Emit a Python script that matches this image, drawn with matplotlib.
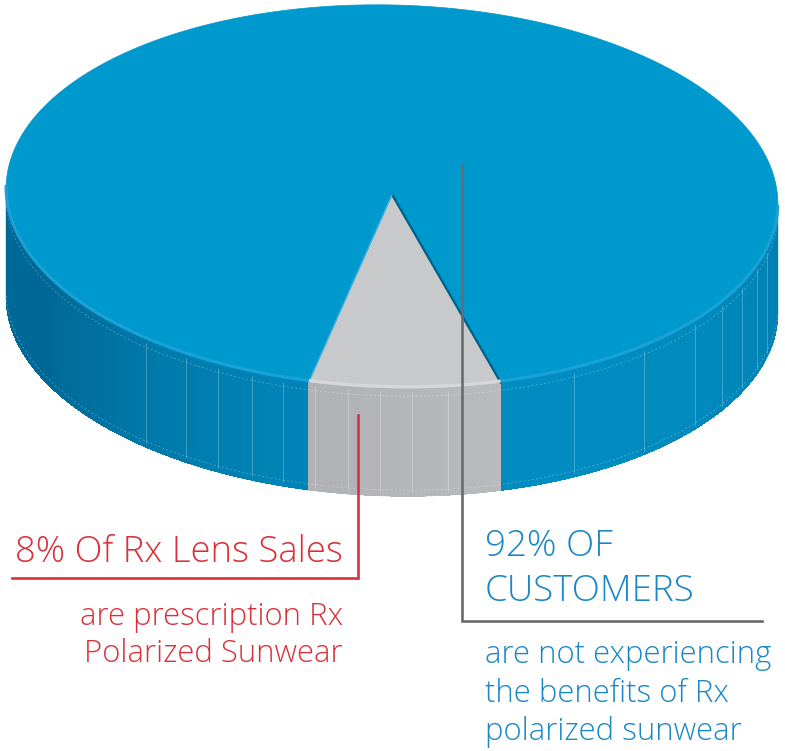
import numpy as np
import matplotlib
matplotlib.use("Agg")
import matplotlib.pyplot as plt
from matplotlib.patches import Polygon

# --- data ---
segments = ["not Rx polarized", "Rx polarized"]
shares = [92, 8]

red_title = "8% Of Rx Lens Sales"
red_lines = ["are prescription Rx", "Polarized Sunwear"]
blue_title = ["92% OF", "CUSTOMERS"]
blue_lines = ["are not experiencing", "the benefits of Rx", "polarized sunwear"]

# --- layout (pixels, y down) ---
W, H = 785, 751
CX, CY = 392, 196.5
RX, RY = 386, 191.5
DEPTH = 108
TILT = np.radians(1.5)
FRONT = 87.3   # where the small slice points (deg, 90 = straight at viewer)

BLUE_TOP = "#0099CD"
BLUE_DARK = np.array([0, 104, 150]) / 255
BLUE_LIGHT = np.array([0, 140, 192]) / 255
GRAY_TOP = "#C8C9CB"
RED = "#D9313A"
BLUE_TXT = "#1B87C6"
LEADER = "#6B6B6B"

plt.rcParams["font.family"] = ["Open Sans", "DejaVu Sans"]


def pt(t_deg, dz=0.0):
    t = np.radians(np.asarray(t_deg, dtype=float))
    X = RX * np.cos(t)
    Y = RY * np.sin(t)
    x = CX + X * np.cos(TILT) - Y * np.sin(TILT)
    y = CY + X * np.sin(TILT) + Y * np.cos(TILT) + dz
    return np.column_stack([x, y])


def side_color(t):
    w = max(0.0, np.cos(np.radians(t - 60))) ** 0.8
    return BLUE_DARK + (BLUE_LIGHT - BLUE_DARK) * w


def gray_color(t):
    return np.array([176, 177, 181]) / 255 + (g1 - t) / small * 0.035


fig = plt.figure(figsize=(W / 100, H / 100), dpi=100)
ax = fig.add_axes([0, 0, 1, 1])
ax.set_xlim(0, W)
ax.set_ylim(H, 0)
ax.axis("off")

total = sum(shares)
small = shares[1] / total * 360
g0, g1 = FRONT - small / 2, FRONT + small / 2


def wall(a, b, color_fn, step=1.5):
    # solid base first so the strip seams blend in
    base = np.vstack([pt(np.linspace(a, b, 80)), pt(np.linspace(b, a, 80), DEPTH)])
    c_mid = color_fn((a + b) / 2)
    ax.add_patch(Polygon(base, closed=True, facecolor=c_mid, edgecolor=c_mid,
                         lw=0.5, zorder=1))
    for t in np.arange(a, b, step):
        t2 = min(t + step, b)
        top = pt(np.linspace(t, t2, 3))
        bot = pt(np.linspace(t2, t, 3), DEPTH)
        c = color_fn(t)
        ax.add_patch(Polygon(np.vstack([top, bot]), closed=True, facecolor=c,
                             edgecolor="none", antialiased=False, zorder=1.5))


wall(0, g0, side_color)
wall(g1, 180, side_color)
wall(g0, g1, gray_color)

# faint facet lines on the walls
facets = [128.8, 121.6, 116, 110.5, 105.6, 61.2, 48.5, 37.5, 30.4, 24, 18, 13,
          100.7, 95.8, 91, 86.3, 80.9]
for t in facets:
    seg = np.vstack([pt([t], 4), pt([t], DEPTH - 4)])
    ax.plot(seg[:, 0], seg[:, 1], color="white", lw=0.5, alpha=0.35, zorder=2)

# dotted seams near top and bottom of the wall
for dz in (8, DEPTH - 6):
    arc = pt(np.linspace(2, 178, 200), dz)
    ax.plot(arc[:, 0], arc[:, 1], color="white", lw=0.5, alpha=0.35,
            ls=(0, (3, 3)), zorder=2)

# top faces
blue_arc = pt(np.linspace(g1, g0 + 360, 400))
ax.add_patch(Polygon(np.vstack([[CX, CY], blue_arc]), closed=True,
                     facecolor=BLUE_TOP, edgecolor=BLUE_TOP, lw=0.5, zorder=3))
gray_arc = pt(np.linspace(g0, g1, 40))
ax.add_patch(Polygon(np.vstack([[CX, CY], gray_arc]), closed=True,
                     facecolor=GRAY_TOP, edgecolor=GRAY_TOP, lw=0.5, zorder=3))

# cut edges of the slice
e0 = pt([g0])[0]
e1 = pt([g1])[0]
ax.plot([CX, e0[0]], [CY - 2, e0[1]], color="#005F8A", lw=1.6, zorder=4)
ax.plot([CX, e1[0]], [CY - 2, e1[1]], color="#3FB0DC", lw=1.0, zorder=4)

# rim highlight along the front edge
for a, b, c in [(0, g0, "#1AA2D6"), (g1, 180, "#1AA2D6"), (g0, g1, "#D6D7D9")]:
    arc = pt(np.linspace(a, b, 120), -1.5)
    ax.plot(arc[:, 0], arc[:, 1], color=c, lw=2.2, zorder=4,
            solid_capstyle="butt")

# leader lines
ax.plot([462, 462, 762], [165, 621, 621], color=LEADER, lw=1.9, zorder=5,
        solid_joinstyle="miter")
ax.plot([358, 358, 12], [415, 578, 578], color=RED, lw=1.9, zorder=5,
        solid_joinstyle="miter")

# labels
ax.text(343, 562, red_title, color=RED, fontsize=26.2, fontweight="light",
        ha="right", va="baseline")
for i, line in enumerate(red_lines):
    ax.text(343, 625 + i * 37, line, color=RED, fontsize=22.4,
            fontweight="light", ha="right", va="baseline")

for i, line in enumerate(blue_title):
    ax.text(485, 556 + i * 45, line, color=BLUE_TXT, fontsize=26.5,
            fontweight="light", ha="left", va="baseline")
for i, line in enumerate(blue_lines):
    ax.text(485, 663 + i * 38.5, line, color=BLUE_TXT, fontsize=22.4,
            fontweight="light", ha="left", va="baseline")

fig.savefig("out.png", dpi=100, facecolor="white")
